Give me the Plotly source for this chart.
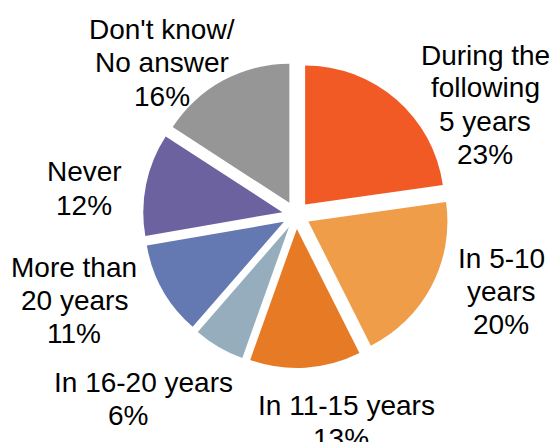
import plotly.graph_objects as go

# Survey answer categories, clockwise from 12 o'clock
labels = ["During the following 5 years", "In 5-10 years", "In 11-15 years",
          "In 16-20 years", "More than 20 years", "Never", "Don't know/ No answer"]
values = [23, 20, 13, 6, 11, 12, 16]
colors = ["#F15A25", "#F09D4A", "#E77B25", "#95ADBD", "#6479B2", "#6D62A0", "#969696"]

# how each label is broken into lines in the picture
label_lines = [["During the", "following", "5 years"], ["In 5-10", "years"], ["In 11-15 years"],
               ["In 16-20 years"], ["More than", "20 years"], ["Never"], ["Don't know/", "No answer"]]

# pixel centre x of each line (name lines then percent), y of first line
label_x = [[485, 485, 485, 485], [501, 501, 501], [346, 341], [143, 128],
           [74, 74, 74], [84, 84], [162, 162, 162]]
label_y0 = [55, 258, 405, 382, 267, 172, 30]
line_gap = 33

W, H = 552, 442

fig = go.Figure()

fig.add_trace(go.Pie(
    labels=labels, values=values, sort=False, direction="clockwise", rotation=0,
    marker=dict(colors=colors, line=dict(width=0)),
    pull=[0.1] * len(values), textinfo="none", hoverinfo="label+percent",
    showlegend=False,
    domain=dict(x=[143 / W, 449 / W], y=[1 - 368 / H, 1 - 62 / H]),
))

# Outside labels: name lines + percentage, one annotation per line
for lines, val, xs, y0 in zip(label_lines, values, label_x, label_y0):
    for i, txt in enumerate(lines + [f"{val}%"]):
        fig.add_annotation(
            x=xs[i] / W, y=1 - (y0 + i * line_gap) / H, xref="paper", yref="paper",
            text=txt, showarrow=False, xanchor="center", yanchor="middle",
            font=dict(family="Liberation Sans, Arial, sans-serif", size=28, color="#000000"),
        )

fig.update_layout(
    width=W, height=H,
    margin=dict(l=0, r=0, t=0, b=0),
    paper_bgcolor="white", plot_bgcolor="white",
)

fig.write_html("out.html", config={"displayModeBar": False},
               post_script="document.body.style.margin='0';")
